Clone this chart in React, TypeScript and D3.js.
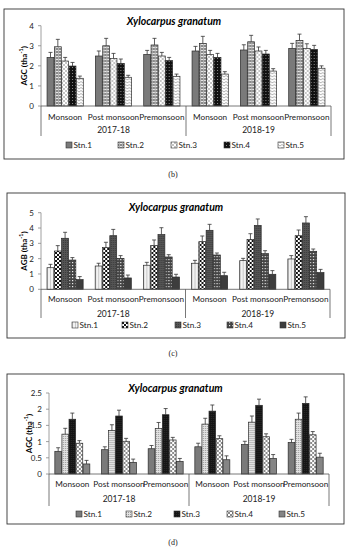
import React from "react";
import * as d3 from "d3";

const categories = ["Monsoon", "Post monsoon", "Premonsoon", "Monsoon", "Post monsoon", "Premonsoon"];
const years = ["2017-18", "2018-19"];
const stations = ["Stn.1", "Stn.2", "Stn.3", "Stn.4", "Stn.5"];

// Panel (b) AGC
const bS1 = [2.42, 2.49, 2.57, 2.74, 2.79, 2.87];
const bS2 = [2.95, 3.0, 3.04, 3.12, 3.2, 3.27];
const bS3 = [2.24, 2.37, 2.49, 2.57, 2.74, 2.87];
const bS4 = [1.99, 2.12, 2.26, 2.42, 2.59, 2.82];
const bS5 = [1.38, 1.43, 1.48, 1.59, 1.74, 1.88];
const bE1 = [0.25, 0.25, 0.2, 0.23, 0.26, 0.25];
const bE2 = [0.37, 0.37, 0.33, 0.35, 0.32, 0.31];
const bE3 = [0.18, 0.25, 0.18, 0.2, 0.2, 0.23];
const bE4 = [0.18, 0.22, 0.16, 0.2, 0.18, 0.2];
const bE5 = [0.11, 0.1, 0.11, 0.12, 0.12, 0.12];
const bTicks = [0, 1, 2, 3, 4];

// Panel (c) AGB
const cS1 = [1.41, 1.52, 1.57, 1.7, 1.87, 1.98];
const cS2 = [2.5, 2.72, 2.85, 3.11, 3.26, 3.5];
const cS3 = [3.33, 3.5, 3.57, 3.85, 4.17, 4.33];
const cS4 = [1.91, 2.02, 2.11, 2.24, 2.33, 2.48];
const cS5 = [0.63, 0.74, 0.8, 0.89, 0.98, 1.09];
const cE1 = [0.22, 0.18, 0.19, 0.19, 0.15, 0.22];
const cE2 = [0.35, 0.35, 0.37, 0.37, 0.37, 0.37];
const cE3 = [0.39, 0.41, 0.45, 0.39, 0.42, 0.41];
const cE4 = [0.16, 0.18, 0.15, 0.13, 0.19, 0.15];
const cE5 = [0.2, 0.19, 0.18, 0.22, 0.24, 0.21];
const cTicks = [0, 1, 2, 3, 4, 5];

// Panel (d) AGC
const dS1 = [0.7, 0.75, 0.78, 0.84, 0.91, 0.97];
const dS2 = [1.23, 1.34, 1.4, 1.54, 1.6, 1.69];
const dS3 = [1.69, 1.79, 1.83, 1.94, 2.12, 2.18];
const dS4 = [0.95, 1.01, 1.05, 1.09, 1.15, 1.21];
const dS5 = [0.31, 0.36, 0.39, 0.44, 0.48, 0.52];
const dE1 = [0.11, 0.09, 0.1, 0.11, 0.1, 0.1];
const dE2 = [0.18, 0.18, 0.19, 0.18, 0.19, 0.19];
const dE3 = [0.19, 0.18, 0.19, 0.19, 0.19, 0.2];
const dE4 = [0.08, 0.09, 0.08, 0.09, 0.09, 0.1];
const dE5 = [0.11, 0.1, 0.09, 0.12, 0.12, 0.12];
const dTicks = [0, 0.5, 1, 1.5, 2, 2.5];

const FONT = "Lato, 'Open Sans', sans-serif";

type PanelProps = {
  id: string;
  frame: [number, number, number, number];
  x0: number; x1: number; y0: number; yTop: number; yMax: number;
  ticks: number[];
  values: number[][];
  errors: number[][];
  fills: string[];
  yLabel: string;
  titleY: number; yLabelX: number;
  catY: number; yearY: number; bracketY: number; legendY: number; legendX: number[];
  letter: string; letterY: number;
};

function Panel(p: PanelProps) {
  const xOuter = d3.scaleBand<number>().domain(d3.range(categories.length)).range([p.x0, p.x1]).paddingInner(0.25).paddingOuter(0.125);
  const xInner = d3.scaleBand<number>().domain(d3.range(stations.length)).range([0, xOuter.bandwidth()]).paddingInner(0.06);
  const y = d3.scaleLinear().domain([0, p.yMax]).range([p.y0, p.yTop]);
  const sep = (p.x0 + p.x1) / 2;
  const [fx0, fy0, fx1, fy1] = p.frame;
  return (
    <g>
      <rect x={fx0} y={fy0} width={fx1 - fx0} height={fy1 - fy0} fill="white" stroke="#333" strokeWidth={0.9} />
      <text x={(fx0 + fx1) / 2} y={p.titleY} textAnchor="middle" dominantBaseline="central" fontFamily={FONT} fontWeight="bold" fontStyle="italic" fontSize={10.5}>Xylocarpus granatum</text>
      <text transform={`translate(${p.yLabelX},${(p.y0 + p.yTop) / 2}) rotate(-90)`} textAnchor="middle" dominantBaseline="central" fontFamily={FONT} fontWeight="bold" fontSize={8}>
        {p.yLabel} (tha<tspan fontSize={5.5} dy={-3}>-1</tspan><tspan dy={3}>)</tspan>
      </text>
      <line x1={p.x0} x2={p.x0} y1={p.y0} y2={p.yTop} stroke="#888" strokeWidth={0.8} />
      {p.ticks.map((t) => (
        <g key={t}>
          <line x1={p.x0 - 3} x2={p.x0} y1={y(t)} y2={y(t)} stroke="#888" strokeWidth={0.8} />
          <text x={p.x0 - 7} y={y(t)} textAnchor="end" dominantBaseline="central" fontFamily={FONT} fontSize={8} fill="#222">{t}</text>
        </g>
      ))}
      {categories.map((c, ci) => (
        <g key={ci} transform={`translate(${xOuter(ci)},0)`}>
          {stations.map((s, si) => {
            const v = p.values[si][ci];
            const e = p.errors[si][ci];
            const bx = xInner(si)!;
            const bw = xInner.bandwidth();
            const cx = bx + bw / 2;
            return (
              <g key={si}>
                <rect x={bx} y={y(v)} width={bw} height={p.y0 - y(v)} fill={p.fills[si]} stroke="#2a2a2a" strokeWidth={0.7} />
                <line x1={cx} x2={cx} y1={y(v)} y2={y(v + e)} stroke="#333" strokeWidth={0.8} />
                <line x1={cx - 2} x2={cx + 2} y1={y(v + e)} y2={y(v + e)} stroke="#333" strokeWidth={0.8} />
              </g>
            );
          })}
        </g>
      ))}
      <line x1={p.x0} x2={p.x1} y1={p.y0} y2={p.y0} stroke="#555" strokeWidth={0.8} />
      {[p.x0, sep, p.x1].map((xx, i) => (
        <line key={i} x1={xx} x2={xx} y1={p.y0} y2={p.bracketY} stroke="#555" strokeWidth={0.8} />
      ))}
      {categories.map((c, ci) => (
        <text key={ci} x={xOuter(ci)! + xOuter.bandwidth() / 2} y={p.catY} textAnchor="middle" dominantBaseline="central" fontFamily={FONT} fontSize={8.2} fill="#222">{c}</text>
      ))}
      {years.map((yr, i) => (
        <text key={yr} x={i === 0 ? (p.x0 + sep) / 2 : (sep + p.x1) / 2} y={p.yearY} textAnchor="middle" dominantBaseline="central" fontFamily={FONT} fontSize={8.5} fill="#222">{yr}</text>
      ))}
      {stations.map((s, si) => (
        <g key={s}>
          <rect x={p.legendX[si]} y={p.legendY - 3} width={6} height={6} fill={p.fills[si]} stroke="#333" strokeWidth={0.6} />
          <text x={p.legendX[si] + 7.5} y={p.legendY} dominantBaseline="central" fontFamily={FONT} fontSize={8.2} fill="#222">{s}</text>
        </g>
      ))}
      <text x={173} y={p.letterY} textAnchor="middle" dominantBaseline="central" fontFamily="'Liberation Serif', serif" fontSize={8} fill="#222">({p.letter})</text>
    </g>
  );
}

export default function App() {
  return (
    <svg width={347} height={550} style={{ position: "absolute", left: 0, top: 0, background: "white" }}>
      <defs>
        <pattern id="b2" width={3} height={3} patternUnits="userSpaceOnUse">
          <rect width={3} height={3} fill="#8a8a8a" />
          <rect y={2} width={3} height={1} fill="#e6e6e6" />
          <rect x={2} width={1} height={3} fill="#b0b0b0" />
        </pattern>
        <pattern id="b3" width={4} height={4} patternUnits="userSpaceOnUse">
          <rect width={4} height={4} fill="#fff" />
          <rect width={2} height={2} fill="#c4c4c4" />
          <rect x={2} y={2} width={2} height={2} fill="#c4c4c4" />
        </pattern>
        <pattern id="b4" width={3} height={3} patternUnits="userSpaceOnUse">
          <rect width={3} height={3} fill="#111" />
          <rect x={1} y={1} width={1} height={1} fill="#888" />
        </pattern>
        <pattern id="b5" width={4} height={3} patternUnits="userSpaceOnUse">
          <rect width={4} height={3} fill="#fff" />
          <path d="M0,2 L2,0.5 L4,2" fill="none" stroke="#9a9a9a" strokeWidth={0.8} />
        </pattern>
        <pattern id="c1" width={3} height={3} patternUnits="userSpaceOnUse">
          <rect width={3} height={3} fill="#f2f2f2" />
          <rect width={1} height={3} fill="#c8c8c8" />
        </pattern>
        <pattern id="c2" width={4} height={4} patternUnits="userSpaceOnUse">
          <rect width={4} height={4} fill="#fff" />
          <rect width={2} height={2} fill="#111" />
          <rect x={2} y={2} width={2} height={2} fill="#111" />
        </pattern>
        <pattern id="c3" width={2} height={2} patternUnits="userSpaceOnUse">
          <rect width={2} height={2} fill="#555" />
          <rect width={1} height={1} fill="#3c3c3c" />
        </pattern>
        <pattern id="c4" width={3} height={3} patternUnits="userSpaceOnUse">
          <rect width={3} height={3} fill="#444" />
          <rect x={1} y={1} width={1.2} height={1.2} fill="#eee" />
        </pattern>
        <pattern id="d2" width={2} height={2} patternUnits="userSpaceOnUse">
          <rect width={2} height={2} fill="#e2e2e2" />
          <rect width={1} height={1} fill="#9a9a9a" />
        </pattern>
        <pattern id="d3" width={2} height={2} patternUnits="userSpaceOnUse">
          <rect width={2} height={2} fill="#151515" />
          <rect width={1} height={1} fill="#2a2a2a" />
        </pattern>
        <pattern id="d4" width={4} height={4} patternUnits="userSpaceOnUse">
          <rect width={4} height={4} fill="#fff" />
          <rect width={2} height={2} fill="#8a8a8a" />
          <rect x={2} y={2} width={2} height={2} fill="#8a8a8a" />
        </pattern>
      </defs>
      <Panel
        id="b" frame={[4, 9, 344, 159]}
        x0={41} x1={331} y0={106} yTop={25.7} yMax={4} ticks={bTicks}
        values={[bS1, bS2, bS3, bS4, bS5]} errors={[bE1, bE2, bE3, bE4, bE5]}
        fills={["#7a7a7a", "url(#b2)", "url(#b3)", "url(#b4)", "url(#b5)"]}
        yLabel="AGC" titleY={20.7} yLabelX={24}
        catY={117} yearY={130} bracketY={136} legendY={145} legendX={[66, 118, 171, 224, 278]}
        letter="b" letterY={174}
      />
      <Panel
        id="c" frame={[7, 193, 345, 338]}
        x0={41} x1={330} y0={289.3} yTop={212.7} yMax={5} ticks={cTicks}
        values={[cS1, cS2, cS3, cS4, cS5]} errors={[cE1, cE2, cE3, cE4, cE5]}
        fills={["url(#c1)", "url(#c2)", "url(#c3)", "url(#c4)", "#3d3d3d"]}
        yLabel="AGB" titleY={207.3} yLabelX={24}
        catY={299} yearY={314} bracketY={318} legendY={325} legendX={[72, 122, 175, 227, 280]}
        letter="c" letterY={353}
      />
      <Panel
        id="d" frame={[7, 374, 344, 524]}
        x0={49} x1={329} y0={474} yTop={393} yMax={2.5} ticks={dTicks}
        values={[dS1, dS2, dS3, dS4, dS5]} errors={[dE1, dE2, dE3, dE4, dE5]}
        fills={["#7a7a7a", "url(#d2)", "url(#d3)", "url(#d4)", "#858585"]}
        yLabel="AGC" titleY={388.3} yLabelX={29}
        catY={484} yearY={499} bracketY={506} legendY={514} legendX={[76, 126, 174, 227, 279]}
        letter="d" letterY={542}
      />
    </svg>
  );
}
